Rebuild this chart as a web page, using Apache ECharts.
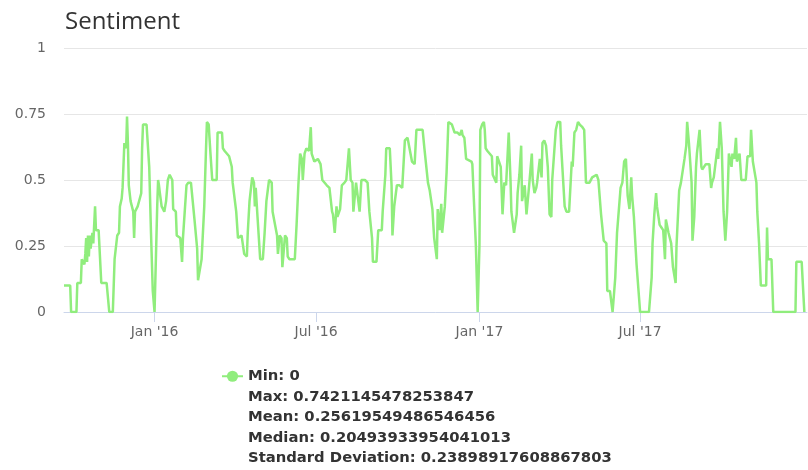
<!DOCTYPE html>
<html>
<head>
<meta charset="utf-8">
<script src="https://cdn.jsdelivr.net/npm/echarts@6/dist/echarts.min.js"></script>
<style>
html,body{margin:0;padding:0;background:#fff;}
#chart{width:808px;height:470px;}
</style>
</head>
<body>
<div id="chart"></div>
<script>
// Series start date (first point of the series)
const startDate = [2015, 8, 21];
// Days elapsed since startDate for each point
const dayOffsets = [
0,7,8,14,15,19,20,23,24,25,26,27,28,29,30,32,33,35,36,39,42,48,51,55,57,60,62,63,65,66,68,70,71,72,73,75,78,79,80,83,87,88,89,93,96,98,100,102,
105,106,107,108,110,113,115,117,119,122,123,126,127,131,133,134,136,138,140,143,145,147,150,151,153,155,158,160,161,163,165,167,172,173,178,179,181,186,189,190,194,196,
200,203,206,207,209,212,214,215,216,218,221,224,226,228,231,234,235,237,240,241,243,245,246,249,251,252,254,260,262,264,266,268,269,271,273,276,278,279,282,286,289,291,296,299,
302,303,305,307,308,311,313,316,318,321,323,325,326,329,331,333,335,339,342,344,347,348,352,354,358,359,361,362,363,367,369,370,372,375,378,381,384,387,389,392,395,397,
404,406,410,412,415,417,420,421,423,425,426,429,431,433,437,440,443,446,448,449,451,453,459,460,464,466,468,469,471,473,474,475,477,482,483,487,488,492,494,496,498,
501,503,504,507,510,511,513,515,516,519,521,522,524,527,528,530,532,533,536,538,539,541,543,545,547,549,550,554,556,559,560,564,566,569,572,573,575,577,579,581,584,586,588,592,595,
600,602,605,608,611,612,615,618,619,621,623,627,629,631,633,635,637,639,640,642,645,647,649,659,662,663,665,667,668,671,673,675,677,678,681,684,686,689,690,693,695,699,
701,702,704,707,708,710,712,713,716,718,719,723,727,729,730,732,736,737,739,741,743,745,747,749,752,753,755,757,758,761,763,768,770,773,774,776,780,781,783,785,791,792,793,797,799,
824,825,831,834
];
const sentimentValues = [
0.10,0.10,0,0,0.11,0.11,0.20,0.18,0.22,0.28,0.19,0.29,0.21,0.29,0.24,0.30,0.26,0.40,0.31,0.31,0.11,0.11,0,0,0.20,0.29,0.30,0.40,0.43,0.47,0.64,0.62,0.74,0.64,0.48,0.42,0.38,0.28,0.38,0.40,0.45,0.62,0.71,0.71,0.55,0.30,0.08,0,
0.40,0.50,0.48,0.45,0.40,0.38,0.42,0.50,0.52,0.50,0.39,0.38,0.29,0.28,0.19,0.28,0.38,0.48,0.49,0.49,0.42,0.35,0.24,0.12,0.12,0.20,0.40,0.62,0.72,0.71,0.60,0.50,0.50,0.68,0.68,0.62,0.61,0.59,0.55,0.49,0.38,0.28,
0.29,0.22,0.21,0.30,0.42,0.51,0.49,0.40,0.47,0.36,0.20,0.20,0.30,0.42,0.50,0.49,0.38,0.38,0.29,0.22,0.29,0.28,0.17,0.29,0.28,0.21,0.20,0.20,0.33,0.48,0.60,0.58,0.50,0.60,0.62,0.61,0.70,0.60,0.57,0.58,0.56,0.50,0.48,0.47,
0.38,0.37,0.30,0.40,0.36,0.39,0.48,0.49,0.50,0.62,0.50,0.49,0.38,0.49,0.49,0.38,0.50,0.50,0.49,0.38,0.28,0.19,0.19,0.31,0.31,0.38,0.38,0.52,0.62,0.62,0.48,0.29,0.40,0.48,0.48,0.47,0.65,0.66,0.66,0.57,0.56,0.69,
0.69,0.62,0.49,0.46,0.39,0.28,0.20,0.39,0.31,0.41,0.30,0.40,0.53,0.72,0.71,0.68,0.68,0.67,0.69,0.67,0.66,0.58,0.57,0.56,0.25,0,0.25,0.69,0.71,0.72,0.69,0.62,0.61,0.59,0.52,0.49,0.59,0.55,0.37,0.49,0.48,
0.68,0.50,0.38,0.30,0.37,0.45,0.52,0.63,0.42,0.48,0.37,0.37,0.48,0.60,0.50,0.45,0.47,0.49,0.58,0.51,0.64,0.65,0.63,0.55,0.37,0.36,0.50,0.69,0.72,0.72,0.63,0.40,0.38,0.38,0.57,0.55,0.68,0.69,0.72,0.71,0.70,0.69,0.49,0.49,0.51,
0.52,0.50,0.37,0.27,0.26,0.08,0.08,0,0,0.13,0.30,0.47,0.49,0.57,0.58,0.44,0.39,0.51,0.44,0.36,0.18,0.09,0,0,0.13,0.26,0.37,0.45,0.40,0.33,0.32,0.31,0.20,0.35,0.30,0.26,0.17,0.11,0.25,0.46,0.49,0.58,
0.63,0.72,0.64,0.49,0.27,0.36,0.55,0.60,0.69,0.55,0.54,0.56,0.56,0.47,0.49,0.51,0.62,0.58,0.72,0.62,0.38,0.27,0.38,0.60,0.55,0.60,0.58,0.66,0.57,0.60,0.50,0.50,0.59,0.59,0.69,0.57,0.49,0.38,0.26,0.10,0.10,0.32,0.20,0.20,0,
0,0.19,0.19,0
];
const axisEndOffset = 837;
const tickDates = [[2016,0,1],[2016,6,1],[2017,0,1],[2017,6,1]];
const tickLabels = ["Jan '16", "Jul '16", "Jan '17", "Jul '17"];
const yTicks = [0, 0.25, 0.5, 0.75, 1];
const chartTitle = 'Sentiment';
const seriesName = 'Sentiment';
const statsLines = [
  'Min: 0',
  'Max: 0.7421145478253847',
  'Mean: 0.25619549486546456',
  'Median: 0.20493933954041013',
  'Standard Deviation: 0.23898917608867803'
];

function dayTime(off) {
  return new Date(startDate[0], startDate[1], startDate[2] + off).getTime();
}
const seriesData = dayOffsets.map((d, i) => [dayTime(d), sentimentValues[i]]);
const tickTimes = tickDates.map(t => new Date(t[0], t[1], t[2]).getTime());

// blank lines above the stats keep the legend icon level with the first line
const legendText = new Array(statsLines.length - 1).fill(' ').concat(statsLines).join('\n');

const LINE_H = 20.5;
const chart = echarts.init(document.getElementById('chart'), null, {renderer: 'canvas'});
chart.setOption({
  animation: false,
  backgroundColor: '#ffffff',
  title: {
    text: chartTitle,
    left: 60,
    top: 5,
    textStyle: {fontFamily: 'Open Sans', fontSize: 24, fontWeight: 'normal', color: '#333333'}
  },
  legend: {
    data: [seriesName],
    left: 221,
    top: 284,
    padding: 0,
    itemWidth: 21,
    itemHeight: 14,
    formatter: () => legendText,
    textStyle: {
      fontFamily: 'DejaVu Sans', fontWeight: 'bold', fontSize: 14.8, color: '#333333',
      lineHeight: LINE_H
    }
  },
  grid: {left: 64, right: 1, top: 48, bottom: 158},
  xAxis: {
    type: 'value',
    min: dayTime(0),
    max: dayTime(axisEndOffset),
    axisLine: {show: true, lineStyle: {color: '#ccd6eb', width: 1}},
    axisTick: {show: true, customValues: tickTimes, length: 10, lineStyle: {color: '#ccd6eb'}},
    axisLabel: {
      customValues: tickTimes,
      formatter: (v) => { const i = tickTimes.indexOf(v); return i >= 0 ? tickLabels[i] : ''; },
      color: '#666666', fontFamily: 'DejaVu Sans', fontSize: 14, margin: 13
    },
    splitLine: {show: false}
  },
  yAxis: {
    type: 'value',
    min: yTicks[0],
    max: yTicks[yTicks.length - 1],
    interval: yTicks[1] - yTicks[0],
    axisLine: {show: false},
    axisTick: {show: false},
    axisLabel: {color: '#666666', fontFamily: 'DejaVu Sans', fontSize: 14, margin: 18},
    splitLine: {lineStyle: {color: '#e6e6e6', width: 1}}
  },
  series: [{
    name: seriesName,
    type: 'line',
    data: seriesData,
    color: '#90ed7d',
    showSymbol: false,
    symbol: 'circle',
    symbolSize: 8,
    lineStyle: {width: 2.5, color: '#90ed7d'},
    itemStyle: {color: '#90ed7d'}
  }]
});
</script>
</body>
</html>
